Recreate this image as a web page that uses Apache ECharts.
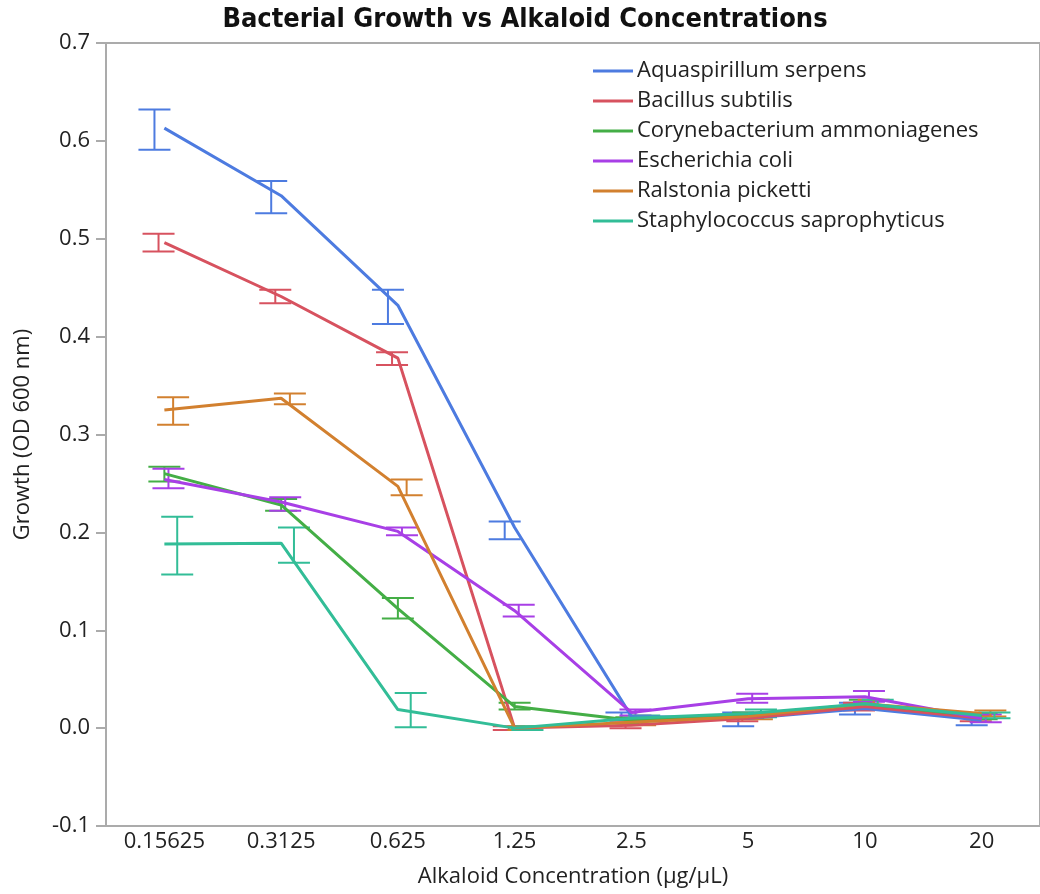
<!DOCTYPE html>
<html><head><meta charset="utf-8">
<script src="https://cdn.jsdelivr.net/npm/echarts@6/dist/echarts.min.js"></script>
<style>html,body{margin:0;padding:0;background:#fff}#c{width:1040px;height:894px}</style>
</head><body><div id="c"></div>
<script>
var categories = ['0.15625','0.3125','0.625','1.25','2.5','5','10','20'];
var seriesNames = ['Aquaspirillum serpens','Bacillus subtilis','Corynebacterium ammoniagenes','Escherichia coli','Ralstonia picketti','Staphylococcus saprophyticus'];
var aquaspirillum = [0.613, 0.544, 0.432, 0.205, 0.012, 0.010, 0.020, 0.008];
var bacillus      = [0.496, 0.441, 0.378, 0.000, 0.003, 0.010, 0.022, 0.010];
var corynebact    = [0.260, 0.228, 0.122, 0.022, 0.008, 0.013, 0.025, 0.012];
var ecoli         = [0.254, 0.231, 0.201, 0.120, 0.016, 0.030, 0.032, 0.010];
var ralstonia     = [0.325, 0.337, 0.247, 0.000, 0.006, 0.012, 0.025, 0.015];
var staphylo      = [0.188, 0.189, 0.019, 0.000, 0.010, 0.015, 0.025, 0.013];
var aquaspirillumErr = [[0.591,0.632],[0.526,0.559],[0.413,0.448],[0.193,0.211],[0.008,0.016],[0.002,0.016],[0.014,0.026],[0.003,0.012]];
var bacillusErr      = [[0.487,0.505],[0.434,0.448],[0.371,0.384],[-0.002,0.002],[0.000,0.006],[0.007,0.013],[0.018,0.026],[0.007,0.013]];
var corynebactErr    = [[0.252,0.267],[0.222,0.234],[0.112,0.133],[0.019,0.026],[0.005,0.011],[0.010,0.016],[0.021,0.029],[0.009,0.015]];
var ecoliErr         = [[0.245,0.265],[0.222,0.236],[0.197,0.205],[0.114,0.126],[0.013,0.019],[0.026,0.035],[0.027,0.038],[0.006,0.014]];
var ralstoniaErr     = [[0.310,0.338],[0.331,0.342],[0.238,0.254],[-0.002,0.002],[0.003,0.009],[0.009,0.015],[0.021,0.029],[0.012,0.018]];
var staphyloErr      = [[0.157,0.216],[0.169,0.205],[0.001,0.036],[-0.002,0.002],[0.007,0.013],[0.011,0.019],[0.021,0.029],[0.010,0.016]];
var yTicks = [-0.1, 0.7, 0.1];

var colors = ['#4d7be0','#d7525f','#44ae46','#a83fe6','#d2802f','#32bd97'];
var dodge = [-0.085, -0.05, 0, 0.035, 0.075, 0.11];
var values = [aquaspirillum, bacillus, corynebact, ecoli, ralstonia, staphylo];
var errs = [aquaspirillumErr, bacillusErr, corynebactErr, ecoliErr, ralstoniaErr, staphyloErr];
var font = '"Open Sans", "Noto Sans", sans-serif';

var series = [];
errs.forEach(function(e, s){
  series.push({
    type:'custom', name: seriesNames[s], z: 2,
    data: e.map(function(d,i){return [i, d[0], d[1]];}),
    renderItem: function(params, api){
      var i = api.value(0);
      var band = api.size([1,0])[0];
      var lo = api.coord([i, api.value(1)]);
      var hi = api.coord([i, api.value(2)]);
      var x = lo[0] + dodge[s]*band;
      var hw = 16;
      var st = {stroke: colors[s], lineWidth: 2};
      return {type:'group', children:[
        {type:'line', shape:{x1:x,y1:lo[1],x2:x,y2:hi[1]}, style:st},
        {type:'line', shape:{x1:x-hw,y1:lo[1],x2:x+hw,y2:lo[1]}, style:st},
        {type:'line', shape:{x1:x-hw,y1:hi[1],x2:x+hw,y2:hi[1]}, style:st}
      ]};
    }
  });
});
values.forEach(function(v, s){
  series.push({type:'line', name: seriesNames[s], data: v, symbol:'none', z: 3,
    lineStyle:{width:3, color: colors[s]}, itemStyle:{color: colors[s]}});
});

var chart = echarts.init(document.getElementById('c'), null, {renderer:'canvas'});
chart.setOption({
  animation:false,
  color: colors,
  title:{text:'Bacterial Growth vs Alkaloid Concentrations', left: 520, textAlign:'center', top: 1,
    textStyle:{fontFamily:'"DejaVu Sans Condensed","Noto Sans",sans-serif', fontWeight:'bold', fontSize:27, color:'#111'}},
  legend:{data: seriesNames.map(function(n,i){return {name:n, icon:'rect', itemStyle:{color:colors[i]}};}),
    orient:'vertical', left: 588, top: 55, itemWidth: 40, itemHeight: 3, itemGap: 8,
    textStyle:{fontFamily:font, fontSize:22, color:'#222', lineHeight:22, padding:[0,0,0,-1]}},
  grid:{left:106, top:43, width:941, bottom:68, show:true, borderColor:'#ababab', borderWidth:2},
  xAxis:{type:'category', data: categories, boundaryGap:true,
    axisLine:{onZero:false, lineStyle:{color:'#ababab', width:2}}, axisTick:{show:false},
    axisLabel:{fontFamily:font, fontSize:22, color:'#222', margin:5},
    name:'Alkaloid Concentration (µg/µL)', nameLocation:'middle', nameGap:40,
    nameTextStyle:{fontFamily:font, fontSize:22, color:'#222'}},
  yAxis:{type:'value', min: yTicks[0], max: yTicks[1], interval: yTicks[2],
    axisLine:{show:true, lineStyle:{color:'#ababab', width:2}},
    axisTick:{show:true, length:10, lineStyle:{color:'#ababab', width:2}},
    splitLine:{show:false},
    axisLabel:{fontFamily:font, fontSize:22, color:'#222', margin:16,
      formatter:function(v){return (Math.round(v*10)/10).toFixed(1);}},
    name:'Growth (OD 600 nm)', nameLocation:'middle', nameGap:72, nameRotate:90,
    nameTextStyle:{fontFamily:font, fontSize:22, color:'#222'}},
  series: series
});
</script></body></html>
